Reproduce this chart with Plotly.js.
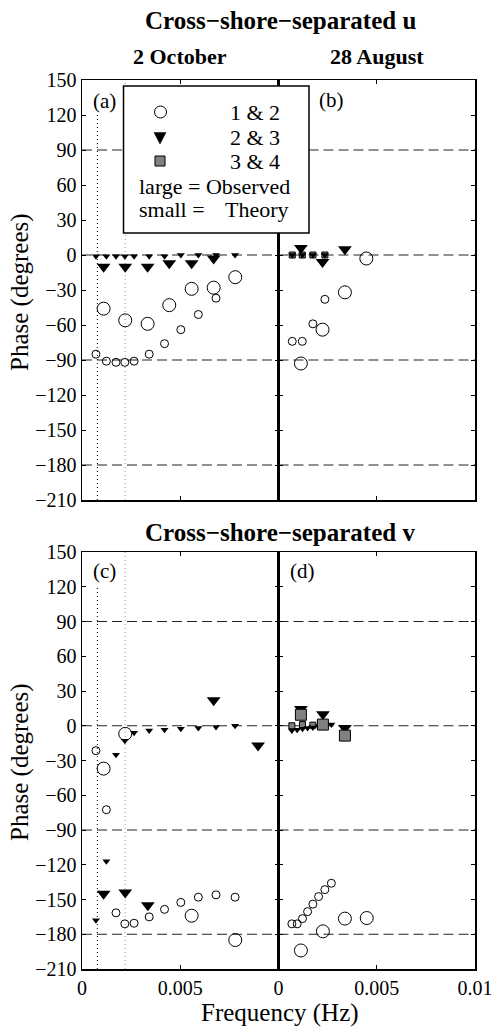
<!DOCTYPE html>
<html>
<head>
<meta charset="utf-8">
<script src="https://cdn.plot.ly/plotly-3.0.1.min.js"></script>
<style>html,body{margin:0;padding:0;background:#fff;}#chart{width:491px;height:1028px;}</style>
</head>
<body>
<div id="chart"></div>
<script>
// ---------- Data ----------
// Panel (a): 2 October, cross-shore-separated u
var a_obs_f   = [0.0011, 0.0022, 0.00334, 0.00444, 0.00558, 0.0067, 0.0078];
var a_obs12_p = [-46, -56, -59, -43, -29, -28, -19];
var a_obs23_f = [0.0011, 0.0022, 0.00334, 0.00444, 0.00558, 0.0067];
var a_obs23_p = [-10, -10, -10, -7, -7, -3];
var a_th_f    = [0.00071, 0.00124, 0.00173, 0.00218, 0.00265, 0.00342, 0.0042, 0.00503, 0.00592, 0.00682, 0.00779];
var a_th12_p  = [-85, -91, -92, -92, -91, -85, -76, -64, -51, -37, null];
var a_th23_p  = [-1, -1, -1, -1, -1, -1, -1, 0, 0, 0, 0];

// Panel (b): 28 August, cross-shore-separated u
var b_obs_f   = [0.00114, 0.00224, 0.00338, 0.00447];
var b_obs12_p = [-93, -64, -32, -3];
var b_obs23_f = [0.00114, 0.00224, 0.00338];
var b_obs23_p = [6, -6, 5];
var b_th_f    = [0.0007, 0.00121, 0.00175, 0.00236];
var b_th12_p  = [-74, -74, -59, -38];
var b_th23_p  = [0, 0, 0, 0];
var b_th34_p  = [0, 0, 0, 0];

// Panel (c): 2 October, cross-shore-separated v
var c_obs_f   = [0.0011, 0.0022, 0.00558, 0.0078];
var c_obs12_p = [-37, -7, -164, -185];
var c_obs23_f = [0.0011, 0.0022, 0.00335, 0.0067, 0.00896];
var c_obs23_p = [-145, -144, -155, 22, -17];
var c_th_f    = [0.00071, 0.00124, 0.00173, 0.00218, 0.00265, 0.00342, 0.0042, 0.00503, 0.00592, 0.00682, 0.00779];
var c_th12_p  = [-21.5, -72.5, -161.5, -171, -170.5, -165, -158.5, -152.5, -148, -146, -148];
var c_th23_p  = [-168, -117, -25, -13, -6, -4, -3.5, -2.5, -2, -1, 0];

// Panel (d): 28 August, cross-shore-separated v
var d_obs_f   = [0.00114, 0.00226, 0.00338, 0.00449];
var d_obs12_p = [-194, -177.5, -166.5, -166];
var d_obs2_f  = [0.00114, 0.00226, 0.00338];
var d_obs23_p = [14.5, 10, -2];
var d_obs34_p = [9.5, 1, -8.5];
var d_th_f    = [0.00068, 0.00095, 0.00122, 0.00148, 0.00175, 0.00204, 0.00236, 0.00269];
var d_th12_p  = [-171, -171, -166.5, -160.5, -154, -147.5, -141.5, -136];
var d_th23_p  = [-4, -3.5, -2.5, -2, -1.5, -0.5, 0, 1];
var d_th34_f  = [0.00068, 0.00122, 0.00175];
var d_th34_p  = [0, 1, 0.5];

var yTicks = [150, 120, 90, 60, 30, 0, -30, -60, -90, -120, -150, -180, -210];
var xTicks = [0, 0.005, 0.01];
var xTickTextLeft  = ['0', '0.005', ''];
var xTickTextRight = ['0', '0.005', '0.01'];
var refLines = [90, 0, -90, -180];
var dotFreqs = [0.00078, 0.0022];

// ---------- Styling ----------
var FONT = '"Liberation Serif", "Times New Roman", Times, serif';
var W = 491, H = 1028;

function mk(xa, ya, f, p, kind) {
  var m;
  if (kind === 'oc') m = {symbol: 'circle-open', size: 13, color: '#000', line: {width: 1, color: '#000'}};
  if (kind === 'tc') m = {symbol: 'circle-open', size: 8, color: '#000', line: {width: 1, color: '#000'}};
  if (kind === 'ot') m = {symbol: 'triangle-down', size: 12, color: '#000', line: {width: 0}};
  if (kind === 'tt') m = {symbol: 'triangle-down', size: 7, color: '#000', line: {width: 0}};
  if (kind === 'os') m = {symbol: 'square', size: 11, color: '#808080', line: {width: 1, color: '#000'}};
  if (kind === 'ts') m = {symbol: 'square', size: 6, color: '#808080', line: {width: 1, color: '#000'}};
  return {type: 'scatter', mode: 'markers', x: f, y: p, xaxis: xa, yaxis: ya, marker: m, hoverinfo: 'skip', cliponaxis: false};
}

var data = [
  mk('x','y', a_th_f, a_th12_p, 'tc'),
  mk('x','y', a_th_f, a_th23_p, 'tt'),
  mk('x','y', a_obs_f, a_obs12_p, 'oc'),
  mk('x','y', a_obs23_f, a_obs23_p, 'ot'),

  mk('x2','y2', b_th_f, b_th12_p, 'tc'),
  mk('x2','y2', b_th_f, b_th34_p, 'ts'),
  mk('x2','y2', b_th_f, b_th23_p, 'tt'),
  mk('x2','y2', b_obs_f, b_obs12_p, 'oc'),
  mk('x2','y2', b_obs23_f, b_obs23_p, 'ot'),

  mk('x3','y3', c_th_f, c_th12_p, 'tc'),
  mk('x3','y3', c_th_f, c_th23_p, 'tt'),
  mk('x3','y3', c_obs_f, c_obs12_p, 'oc'),
  mk('x3','y3', c_obs23_f, c_obs23_p, 'ot'),

  mk('x4','y4', d_th_f, d_th12_p, 'tc'),
  mk('x4','y4', d_th34_f, d_th34_p, 'ts'),
  mk('x4','y4', d_th_f, d_th23_p, 'tt'),
  mk('x4','y4', d_obs_f, d_obs12_p, 'oc'),
  mk('x4','y4', d_obs2_f, d_obs23_p, 'ot'),
  mk('x4','y4', d_obs2_f, d_obs34_p, 'os'),

  {type:'scatter', mode:'markers', x:[], y:[], xaxis:'x5', yaxis:'y5', hoverinfo:'skip'}
];

var xL = [82/W, 278.5/W], xR = [278.5/W, 475/W];
var yT = [(H-500)/H, (H-80)/H], yB = [(H-969)/H, (H-552)/H];

function xax(dom, anchor, showLabels, texts) {
  return {
    domain: dom, anchor: anchor, range: [0, 0.01],
    tickvals: xTicks, ticktext: texts,
    showticklabels: showLabels, ticklabeloverflow: 'allow',
    ticks: 'inside', ticklen: 4, tickwidth: 1, tickcolor: '#000',
    mirror: 'ticks', showline: true, linecolor: '#000', linewidth: 1.5,
    showgrid: false, zeroline: false,
    tickfont: {family: FONT, size: 20, color: '#000'}
  };
}
function yax(dom, anchor, showLabels) {
  return {
    domain: dom, anchor: anchor, range: [-210, 150],
    tickvals: yTicks, showticklabels: showLabels, ticklabeloverflow: 'allow',
    ticks: 'inside', ticklen: 4, tickwidth: 1, tickcolor: '#000',
    mirror: 'ticks', showline: true, linecolor: '#000', linewidth: 1.5,
    showgrid: false, zeroline: false,
    tickfont: {family: FONT, size: 20, color: '#000'}
  };
}

var shapes = [];
[['x','y'],['x2','y2'],['x3','y3'],['x4','y4']].forEach(function(ax){
  refLines.forEach(function(v){
    shapes.push({type:'line', xref:ax[0], yref:ax[1], x0:0, x1:0.01, y0:v, y1:v,
      layer:'below', line:{color:'#222', width:1, dash:'10px,5px'}});
  });
});
[['x','y'],['x3','y3']].forEach(function(ax){
  shapes.push({type:'line', xref:ax[0], yref:ax[1], x0:dotFreqs[0], x1:dotFreqs[0], y0:-210, y1:120,
    layer:'below', line:{color:'#000', width:1, dash:'1px,3px'}});
  shapes.push({type:'line', xref:ax[0], yref:ax[1], x0:dotFreqs[1], x1:dotFreqs[1], y0:-210, y1:150,
    layer:'below', line:{color:'#999', width:1, dash:'1px,3px'}});
});
// legend box (pixel coordinates on the overlay axes)
shapes.push({type:'rect', xref:'x5', yref:'y5', x0:123.5, x1:309, y0:86, y1:233,
  layer:'above', fillcolor:'#fff', line:{color:'#000', width:1.5}});
shapes.push({type:'circle', xref:'x5', yref:'y5', x0:154.5, x1:166.5, y0:106, y1:118,
  layer:'above', fillcolor:'rgba(0,0,0,0)', line:{color:'#000', width:1}});
shapes.push({type:'path', xref:'x5', yref:'y5', path:'M154,132.5 L166,132.5 L160,144 Z',
  layer:'above', fillcolor:'#000', line:{color:'#000', width:0.5}});
shapes.push({type:'rect', xref:'x5', yref:'y5', x0:155, x1:165, y0:156, y1:166,
  layer:'above', fillcolor:'#808080', line:{color:'#000', width:1}});

function ann(text, x, y, size, opts) {
  var a = {text: text, x: x, y: y, xref: 'x5', yref: 'y5', showarrow: false,
    xanchor: 'center', yanchor: 'middle',
    font: {family: FONT, size: size, color: '#000'}};
  for (var k in (opts || {})) a[k] = opts[k];
  return a;
}
var BOLD = function(sz){ return {family: FONT, size: sz, color: '#000', weight: 'bold'}; };

var annotations = [
  ann('Cross\u2212shore\u2212separated u', 280, 20, 25, {font: BOLD(25)}),
  ann('2 October', 180, 56, 22, {font: BOLD(22)}),
  ann('28 August', 377, 56, 22, {font: BOLD(22)}),
  ann('Cross\u2212shore\u2212separated v', 280, 532, 25, {font: BOLD(25)}),
  ann('(a)', 91, 101, 21, {xanchor: 'left'}),
  ann('(b)', 317, 100, 21, {xanchor: 'left'}),
  ann('(c)', 91, 571, 21, {xanchor: 'left'}),
  ann('(d)', 288, 571, 21, {xanchor: 'left'}),
  ann('Phase (degrees)', 20, 292, 25, {textangle: -90}),
  ann('Phase (degrees)', 20, 762, 25, {textangle: -90}),
  ann('Frequency (Hz)', 280, 1013, 25),
  ann('1 &amp; 2', 228, 112, 22, {xanchor: 'left'}),
  ann('2 &amp; 3', 228, 137, 22, {xanchor: 'left'}),
  ann('3 &amp; 4', 228, 161, 22, {xanchor: 'left'}),
  ann('large = Observed', 137, 186, 22, {xanchor: 'left'}),
  ann('small =', 137, 209, 22, {xanchor: 'left'}),
  ann('Theory', 223, 209, 22, {xanchor: 'left'})
];

var layout = {
  width: W, height: H, autosize: false,
  margin: {l: 0, r: 0, t: 0, b: 0, pad: 0},
  paper_bgcolor: '#fff', plot_bgcolor: 'rgba(0,0,0,0)',
  showlegend: false,
  font: {family: FONT, color: '#000'},
  xaxis:  xax(xL, 'y',  false, xTickTextLeft),
  yaxis:  yax(yT, 'x',  true),
  xaxis2: xax(xR, 'y2', false, xTickTextRight),
  yaxis2: yax(yT, 'x2', false),
  xaxis3: xax(xL, 'y3', true, xTickTextLeft),
  yaxis3: yax(yB, 'x3', true),
  xaxis4: xax(xR, 'y4', true, xTickTextRight),
  yaxis4: yax(yB, 'x4', false),
  xaxis5: {domain: [0, 1], anchor: 'y5', range: [0, W], visible: false, fixedrange: true},
  yaxis5: {domain: [0, 1], anchor: 'x5', range: [H, 0], visible: false, fixedrange: true},
  shapes: shapes,
  annotations: annotations
};

Plotly.newPlot('chart', data, layout, {staticPlot: true, displayModeBar: false});
</script>
</body>
</html>
